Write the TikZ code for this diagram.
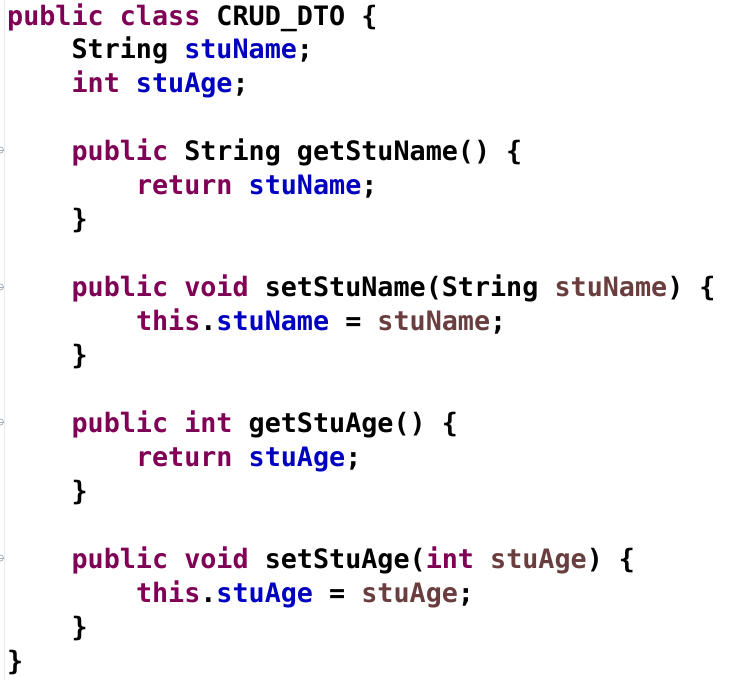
\documentclass[tikz,border=0pt]{standalone}
\usepackage{fontspec}
\setmonofont{DejaVu Sans Mono}
\usepackage{xcolor}
\definecolor{kwc}{HTML}{7F0055}
\definecolor{fldc}{HTML}{0000C0}
\definecolor{prmc}{HTML}{6A3E3E}
\definecolor{gutterc}{HTML}{EAEAEA}
\definecolor{foldc}{HTML}{A0A8B8}
\newcommand\kwd[1]{\textcolor{kwc}{#1}}
\newcommand\fldd[1]{\textcolor{fldc}{#1}}
\newcommand\prmd[1]{\textcolor{prmc}{#1}}
\begin{document}
\begin{tikzpicture}[x=1pt,y=1pt,
  codeline/.style={anchor=base west,inner sep=0pt,font=\ttfamily\bfseries\fontsize{26.74pt}{34pt}\selectfont},
  foldmark/.style={circle,draw=foldc,fill=white,line width=0.7pt,minimum size=6pt,inner sep=0pt}]
\useasboundingbox (0,0) rectangle (742,-680);
\fill[white] (0,0) rectangle (742,-680);
\draw[gutterc,line width=0.8pt] (4.5,0) -- (4.5,-680);
% fold markers
\begin{scope}
\clip (0,0) rectangle (4,-680);
\foreach \yy/\nm in {150/fa,287/fb,422/fc,558/fd}{
  \node[foldmark] (\nm) at (0.5,-\yy) {};
  \draw[foldc,line width=0.6pt] (-2,-\yy) -- (3,-\yy);
}
\end{scope}
\def\cw{16.1}
\def\bl#1{-(25+(#1-1)*33.95)}
\node[codeline] (l1) at (7,{\bl{1}}) {\kwd{public} \kwd{class} CRUD\_DTO \{};
\node[codeline] (l2) at ({7+4*\cw},{\bl{2}}) {String \fldd{stuName};};
\node[codeline] (l3) at ({7+4*\cw},{\bl{3}}) {\kwd{int} \fldd{stuAge};};
\node[codeline] (l5) at ({7+4*\cw},{\bl{5}}) {\kwd{public} String getStuName() \{};
\node[codeline] (l6) at ({7+8*\cw},{\bl{6}}) {\kwd{return} \fldd{stuName};};
\node[codeline] (l7) at ({7+4*\cw},{\bl{7}}) {\}};
\node[codeline] (l9) at ({7+4*\cw},{\bl{9}}) {\kwd{public} \kwd{void} setStuName(String \prmd{stuName}) \{};
\node[codeline] (l10) at ({7+8*\cw},{\bl{10}}) {\kwd{this}.\fldd{stuName} = \prmd{stuName};};
\node[codeline] (l11) at ({7+4*\cw},{\bl{11}}) {\}};
\node[codeline] (l13) at ({7+4*\cw},{\bl{13}}) {\kwd{public} \kwd{int} getStuAge() \{};
\node[codeline] (l14) at ({7+8*\cw},{\bl{14}}) {\kwd{return} \fldd{stuAge};};
\node[codeline] (l15) at ({7+4*\cw},{\bl{15}}) {\}};
\node[codeline] (l17) at ({7+4*\cw},{\bl{17}}) {\kwd{public} \kwd{void} setStuAge(\kwd{int} \prmd{stuAge}) \{};
\node[codeline] (l18) at ({7+8*\cw},{\bl{18}}) {\kwd{this}.\fldd{stuAge} = \prmd{stuAge};};
\node[codeline] (l19) at ({7+4*\cw},{\bl{19}}) {\}};
\node[codeline] (l20) at (7,{\bl{20}}) {\}};
\end{tikzpicture}
\end{document}
